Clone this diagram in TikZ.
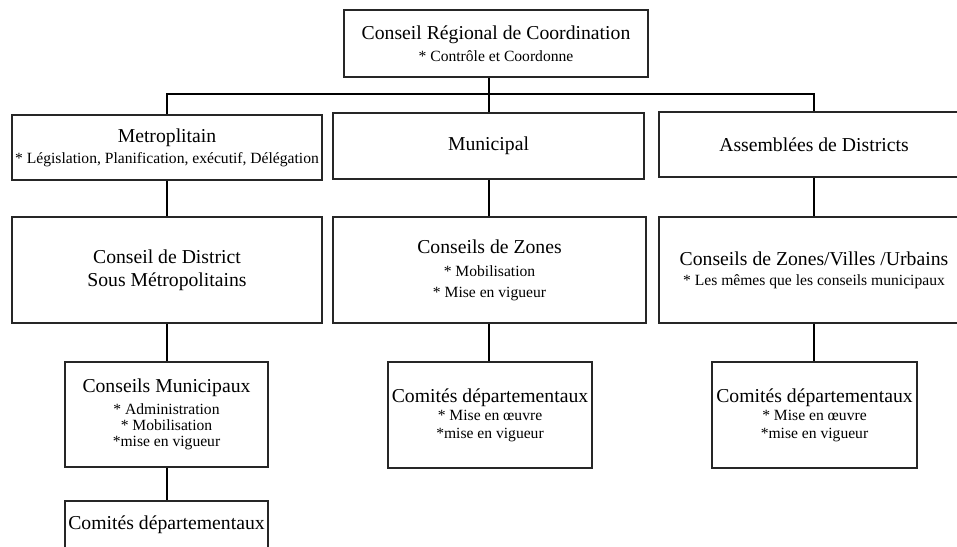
\documentclass[tikz,border=0pt]{standalone}
\usepackage{fontspec}
\setmainfont{Liberation Serif}
\newcommand\bigline{\fontsize{19.7}{23}\selectfont}
\newcommand\smallline{\fontsize{15.6}{17}\selectfont}
\begin{document}
\begin{tikzpicture}[x=1pt,y=-1pt,
  box/.style={draw=black!85, line width=1.1pt, inner sep=0pt, align=center, font=\smallline},
  conn/.style={draw=black, line width=2pt},
  ]
\clip (0,0) rectangle (957,546);
\fill[white] (0,0) rectangle (957,546);

% top level
\node[box, minimum width=304, minimum height=67] (top) at (496,43.5)
  {{\bigline Conseil Régional de Coordination}\\[5pt]* Contrôle et Coordonne};

% second level
\node[box, minimum width=310, minimum height=65] (metro) at (167,147.5)
  {{\bigline Metroplitain}\\[4pt]* Législation, Planification, exécutif, Délégation};
\node[box, font=\bigline, minimum width=311, minimum height=66] (muni) at (488.5,146)
  {Municipal};
\node[box, font=\bigline, minimum width=310, minimum height=65] (assemb) at (814,144.5)
  {Assemblées de Districts};

% third level
\node[box, font=\bigline, minimum width=310, minimum height=106] (district) at (167,270)
  {Conseil de District\\Sous Métropolitains};
\node[box, minimum width=313, minimum height=106] (zones) at (489.5,270)
  {{\bigline Conseils de Zones}\\[6pt]* Mobilisation\\[4pt]* Mise en vigueur};
\node[box, minimum width=310, minimum height=106] (zvu) at (814,270)
  {{\bigline Conseils de Zones/Villes /Urbains}\\[3pt]* Les mêmes que les conseils municipaux};

% fourth level
\node[box, minimum width=203, minimum height=105] (cm) at (166.5,414.5)
  {{\fontsize{19.7}{16}\selectfont Conseils Municipaux}\\[5pt]* Administration\\[-1pt]* Mobilisation\\[-1pt]*mise en vigueur};
\node[box, minimum width=204, minimum height=106] (cd2) at (490,415)
  {{\bigline Comités départementaux}\\[1pt]* Mise en œuvre\\[1pt]*mise en vigueur};
\node[box, minimum width=205, minimum height=106] (cd3) at (814.5,415)
  {{\bigline Comités départementaux}\\[1pt]* Mise en œuvre\\[1pt]*mise en vigueur};

% fifth level
\node[box, minimum width=203, minimum height=105] (cd1) at (166.5,553.5) {};
\node[font=\bigline, anchor=base, inner sep=0pt] (cd1text) at (166.5,529) {Comités départementaux};

% connectors
\draw[conn] (top.south -| muni.north) -- (muni.north);
\draw[conn] (metro.north) -- ++(0,-20) -| (assemb.north);
\draw[conn] (metro.south) -- (district.north);
\draw[conn] (district.south) -- (district.south |- cm.north);
\draw[conn] (cm.south) -- (cd1.north);
\draw[conn] (muni.south) -- (muni.south |- zones.north);
\draw[conn] (zones.south -| muni.south) -- (muni.south |- cd2.north);
\draw[conn] (assemb.south) -- (zvu.north);
\draw[conn] (zvu.south) -- (zvu.south |- cd3.north);
\end{tikzpicture}
\end{document}
